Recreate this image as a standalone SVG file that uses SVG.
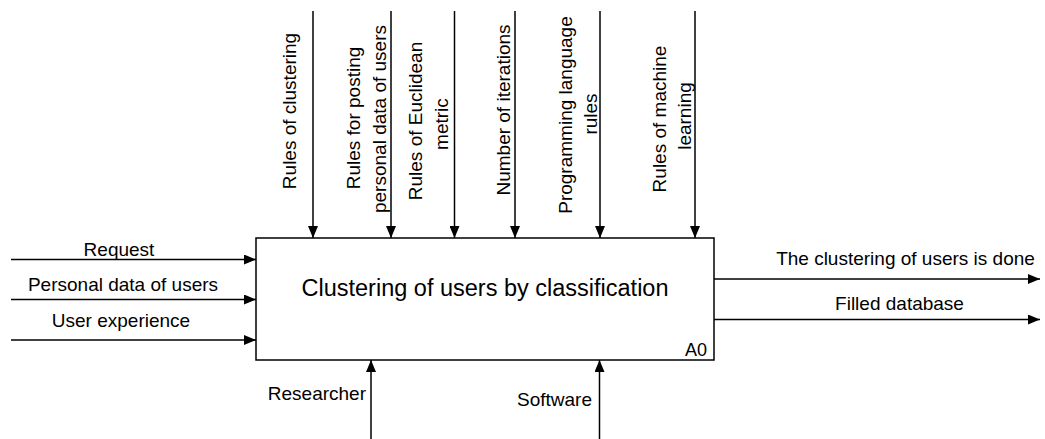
<svg xmlns="http://www.w3.org/2000/svg" width="1045" height="439" viewBox="0 0 1045 439">
<style>
  .lbl { font-family: "Liberation Sans", Arial, sans-serif; font-size: 19px; fill: #000; }
  .mid { text-anchor: middle; }
  .end { text-anchor: end; }
  .main { font-family: "Liberation Sans", Arial, sans-serif; font-size: 23.5px; fill: #000; text-anchor: middle; }
  .conn { stroke: #000; stroke-width: 1.5; fill: none; marker-end: url(#arr); }
  .box { fill: #fff; stroke: #000; stroke-width: 1.5; }
</style>
<defs>
  <marker id="arr" markerUnits="userSpaceOnUse" markerWidth="12" markerHeight="10" refX="12" refY="5" orient="auto">
    <path d="M0,0 L12,5 L0,10 z" fill="#000"/>
  </marker>
</defs>
<rect width="1045" height="439" fill="#fff"/>
<g id="connectors">
  <line class="conn" x1="11" y1="259.5" x2="256" y2="259.5"/>
  <line class="conn" x1="11" y1="299.5" x2="256" y2="299.5"/>
  <line class="conn" x1="11" y1="340" x2="256" y2="340"/>
  <line class="conn" x1="313" y1="11" x2="313" y2="238"/>
  <line class="conn" x1="391" y1="11" x2="391" y2="238"/>
  <line class="conn" x1="454.5" y1="11" x2="454.5" y2="238"/>
  <line class="conn" x1="515" y1="11" x2="515" y2="238"/>
  <line class="conn" x1="600" y1="11" x2="600" y2="238"/>
  <line class="conn" x1="695" y1="11" x2="695" y2="238"/>
  <line class="conn" x1="371" y1="439" x2="371" y2="360"/>
  <line class="conn" x1="599.5" y1="439" x2="599.5" y2="360"/>
  <line class="conn" x1="714" y1="279" x2="1040" y2="279"/>
  <line class="conn" x1="714" y1="319.5" x2="1040" y2="319.5"/>
  <text class="lbl mid" x="119" y="256">Request</text>
  <text class="lbl mid" x="123" y="291">Personal data of users</text>
  <text class="lbl mid" x="121" y="327">User experience</text>
  <text class="lbl mid" x="905.5" y="265">The clustering of users is done</text>
  <text class="lbl mid" x="899.5" y="310">Filled database</text>
  <text class="lbl end" x="366" y="400">Researcher</text>
  <text class="lbl end" x="592" y="406">Software</text>
  <text class="lbl mid" transform="rotate(-90 296 111)" x="296" y="111">Rules of clustering</text>
  <text class="lbl mid" transform="rotate(-90 360 118)" x="360" y="118">Rules for posting</text>
  <text class="lbl mid" transform="rotate(-90 385.5 119)" x="385.5" y="119">personal data of users</text>
  <text class="lbl mid" transform="rotate(-90 422 121)" x="422" y="121">Rules of Euclidean</text>
  <text class="lbl mid" transform="rotate(-90 448 124)" x="448" y="124">metric</text>
  <text class="lbl mid" transform="rotate(-90 510 110)" x="510" y="110">Number of iterations</text>
  <text class="lbl mid" transform="rotate(-90 572 115)" x="572" y="115">Programming language</text>
  <text class="lbl mid" transform="rotate(-90 597 114)" x="597" y="114">rules</text>
  <text class="lbl mid" transform="rotate(-90 666 119)" x="666" y="119">Rules of machine</text>
  <text class="lbl mid" transform="rotate(-90 691 116)" x="691" y="116">learning</text>
</g>
<g id="A0">
  <rect class="box" x="256" y="238" width="458" height="122"/>
  <text class="main" x="485" y="296">Clustering of users by classification</text>
  <text class="lbl end" x="707" y="356" style="font-size:18px">A0</text>
</g>
</svg>
